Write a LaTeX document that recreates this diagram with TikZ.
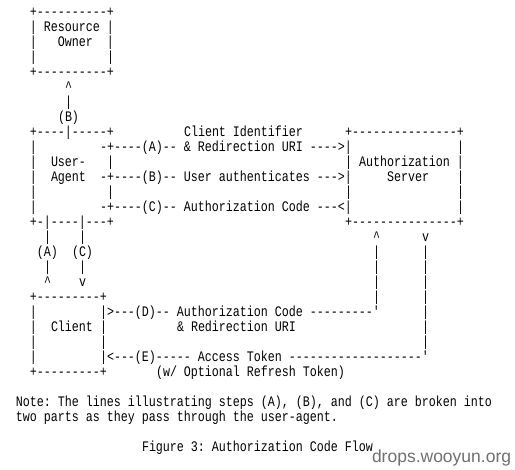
\documentclass[tikz,border=0pt]{standalone}
\usepackage{fontspec}
\setmonofont{Liberation Mono}[FakeStretch=0.8]
\newfontfamily\wmfont{Liberation Sans}
\definecolor{wmgray}{RGB}{112,112,112}
\tikzset{
  txt/.style={anchor=base west, inner sep=0pt, outer sep=0pt,
    font=\fontsize{14.583}{15}\selectfont\ttfamily, text=black},
  wmstyle/.style={anchor=base west, inner sep=0pt, outer sep=0pt,
    font=\fontsize{17.5}{20}\selectfont\wmfont, text=wmgray}
}
\newcommand{\seg}[3]{\node[txt] (r#1c#2) at ({7*#2-5},{-16.5-15*#1}) {#3};}
\newcommand{\up}{\textasciicircum}
\begin{document}
\begin{tikzpicture}[x=1pt,y=1pt]
\useasboundingbox[fill=white] (0,0) rectangle (515,-470);
% Resource Owner
\seg{0}{5}{+----------+}
\seg{1}{5}{|~Resource~|}
\seg{2}{5}{|~~~Owner~~|}
\seg{3}{5}{|~~~~~~~~~~|}
\seg{4}{5}{+----------+}
\seg{5}{10}{\up}
\seg{6}{10}{|}
\seg{7}{9}{(B)}
% User-Agent and Authorization Server
\seg{8}{5}{+----|-----+}
\seg{8}{27}{Client~Identifier}
\seg{8}{50}{+---------------+}
\seg{9}{5}{|}
\seg{9}{15}{-+----(A)--~\&~Redirection~URI~---->|}
\seg{9}{66}{|}
\seg{10}{5}{|}
\seg{10}{8}{User-}
\seg{10}{16}{|}
\seg{10}{50}{|~Authorization~|}
\seg{11}{5}{|}
\seg{11}{8}{Agent}
\seg{11}{15}{-+----(B)--~User~authenticates~--->|}
\seg{11}{56}{Server}
\seg{11}{66}{|}
\seg{12}{5}{|}
\seg{12}{16}{|}
\seg{12}{50}{|}
\seg{12}{66}{|}
\seg{13}{5}{|}
\seg{13}{15}{-+----(C)--~Authorization~Code~---<|}
\seg{13}{66}{|}
\seg{14}{5}{+-|----|---+}
\seg{14}{50}{+---------------+}
% vertical links
\seg{15}{7}{|}
\seg{15}{12}{|}
\seg{15}{54}{\up}
\seg{15}{61}{v}
\seg{16}{6}{(A)}
\seg{16}{11}{(C)}
\seg{16}{54}{|}
\seg{16}{61}{|}
\seg{17}{7}{|}
\seg{17}{12}{|}
\seg{17}{54}{|}
\seg{17}{61}{|}
\seg{18}{7}{\up}
\seg{18}{12}{v}
\seg{18}{54}{|}
\seg{18}{61}{|}
% Client
\seg{19}{5}{+---------+}
\seg{19}{54}{|}
\seg{19}{61}{|}
\seg{20}{5}{|}
\seg{20}{15}{|>---(D)--~Authorization~Code~---------'}
\seg{20}{61}{|}
\seg{21}{5}{|}
\seg{21}{8}{Client}
\seg{21}{15}{|}
\seg{21}{26}{\&~Redirection~URI}
\seg{21}{61}{|}
\seg{22}{5}{|}
\seg{22}{15}{|}
\seg{22}{61}{|}
\seg{23}{5}{|}
\seg{23}{15}{|<---(E)-----~Access~Token~-------------------'}
\seg{24}{5}{+---------+}
\seg{24}{23}{(w/~Optional~Refresh~Token)}
% note and caption
\seg{26}{3}{Note:~The~lines~illustrating~steps~(A),~(B),~and~(C)~are~broken~into}
\seg{27}{3}{two~parts~as~they~pass~through~the~user-agent.}
\seg{29}{21}{Figure~3:~Authorization~Code~Flow}
% watermark
\node[wmstyle] (wm) at (372,-463) {drops.wooyun.org};
\end{tikzpicture}
\end{document}
